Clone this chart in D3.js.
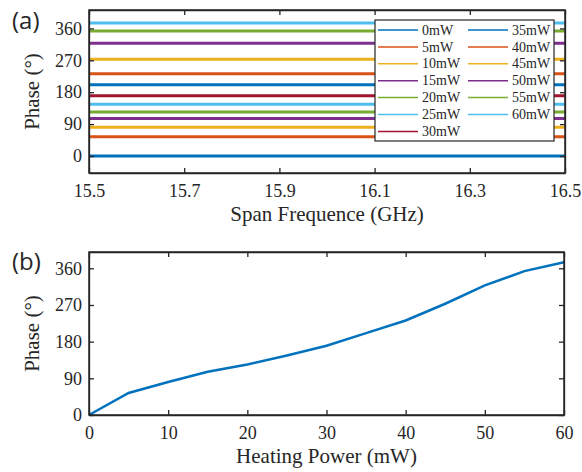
<!DOCTYPE html>
<html>
<head>
<meta charset="utf-8">
<script src="https://cdn.jsdelivr.net/npm/d3@7"></script>
<style>
  body { margin: 0; background: #fff; }
  svg text { font-family: "Liberation Serif", "DejaVu Serif", serif; fill: #262626; }
  .axis path, .axis line { stroke: #262626; stroke-width: 1.3; }
</style>
</head>
<body>
<svg id="chart" width="582" height="472"></svg>
<script>
// heating powers (mW) and measured phase shift (deg)
var powers = [0, 5, 10, 15, 20, 25, 30, 35, 40, 45, 50, 55, 60];
var phases = [0, 54, 81, 106, 124, 146, 170, 201, 232, 273, 318, 353, 375];
// span of the frequency sweep (GHz)
var freqSpan = [15.5, 16.5];
var freqTicks = [15.5, 15.7, 15.9, 16.1, 16.3, 16.5];
var phaseTicks = [0, 90, 180, 270, 360];
var powerTicks = [0, 10, 20, 30, 40, 50, 60];
var colors = ['#0072BD', '#D95319', '#EDB120', '#7E2F8E', '#77AC30', '#4DBEEE', '#A2142F'];

var serif = '"Liberation Serif", "DejaVu Serif", serif';
var svg = d3.select('#chart');

// draws a box frame with inward ticks on all four sides
function frame(g, x, y, xt, yt, xfmt, yfmt, w, h) {
    var axes = [];
    axes.push(g.append('g')
        .attr('transform', 'translate(0,' + h + ')')
        .call(d3.axisBottom(x).tickValues(xt).tickFormat(xfmt).tickSizeInner(-5).tickSizeOuter(0).tickPadding(11)));
    axes.push(g.append('g')
        .call(d3.axisTop(x).tickValues(xt).tickFormat('').tickSizeInner(-5).tickSizeOuter(0)));
    axes.push(g.append('g')
        .call(d3.axisLeft(y).tickValues(yt).tickFormat(yfmt).tickSizeInner(-5).tickSizeOuter(0).tickPadding(7)));
    axes.push(g.append('g')
        .attr('transform', 'translate(' + w + ',0)')
        .call(d3.axisRight(y).tickValues(yt).tickFormat('').tickSizeInner(-5).tickSizeOuter(0)));
    axes.forEach(function(a) {
        a.attr('class', 'axis').attr('font-family', serif).attr('font-size', 18);
        a.selectAll('text').style('font-family', serif).style('font-size', '18px').style('fill', '#262626');
    });
    g.append('rect')
        .attr('width', w).attr('height', h)
        .style('fill', 'none').style('stroke', '#262626').style('stroke-width', 1.5);
}

// ---- panel (a) ----
var ma = {left: 89, top: 10}, wa = 476, ha = 163;
var ga = svg.append('g').attr('transform', 'translate(' + ma.left + ',' + ma.top + ')');
var xa = d3.scaleLinear().domain(freqSpan).range([0, wa]);
var ya = d3.scaleLinear().domain([-48, 412]).range([ha, 0]);

var traceLine = d3.line().x(function(d) { return xa(d[0]); }).y(function(d) { return ya(d[1]); });
ga.append('g').selectAll('path')
    .data(phases)
    .enter().append('path')
    .attr('d', function(p) { return traceLine(freqSpan.map(function(f) { return [f, p]; })); })
    .style('fill', 'none')
    .style('stroke', function(p, i) { return colors[i % colors.length]; })
    .style('stroke-width', 3);

frame(ga, xa, ya, freqTicks, phaseTicks, d3.format('.1f'), d3.format('d'), wa, ha);

// legend
var lg = svg.append('g').attr('transform', 'translate(375,20)');
lg.append('rect').attr('width', 179).attr('height', 121)
    .style('fill', '#fff').style('stroke', '#262626').style('stroke-width', 1.2);
var items = lg.selectAll('g.item')
    .data(powers)
    .enter().append('g')
    .attr('class', 'item')
    .attr('transform', function(d, i) {
        var col = i < 7 ? 0 : 1, row = i < 7 ? i : i - 7;
        return 'translate(' + (col * 90) + ',' + (10 + row * 16.9) + ')';
    });
items.append('line')
    .attr('x1', 3).attr('x2', 43)
    .style('stroke', function(d, i) { return colors[i % colors.length]; })
    .style('stroke-width', 1.5);
items.append('text')
    .attr('x', 47).attr('dy', '0.33em')
    .style('font-family', serif)
    .style('font-size', '14px')
    .text(function(d) { return d + 'mW'; });

function axisTitle(g, x, y, rot, txt) {
    g.append('text')
        .attr('transform', 'translate(' + x + ',' + y + ')' + (rot ? ' rotate(-90)' : ''))
        .attr('text-anchor', 'middle')
        .style('font-family', serif)
        .style('font-size', '21px')
        .text(txt);
}
axisTitle(ga, wa / 2, 211, false, 'Span Frequence (GHz)');
axisTitle(ga, -50, ha / 2, true, 'Phase (°)');

// ---- panel (b) ----
var mb = {left: 89, top: 252}, wb = 475, hb = 163;
var gb = svg.append('g').attr('transform', 'translate(' + mb.left + ',' + mb.top + ')');
var xb = d3.scaleLinear().domain([0, 60]).range([0, wb]);
var yb = d3.scaleLinear().domain([0, 400]).range([hb, 0]);

var curve = d3.line()
    .x(function(d, i) { return xb(powers[i]); })
    .y(function(d) { return yb(d); });
gb.append('path')
    .datum(phases)
    .attr('d', curve)
    .style('fill', 'none')
    .style('stroke', colors[0])
    .style('stroke-width', 2.5);

frame(gb, xb, yb, powerTicks, phaseTicks, d3.format('d'), d3.format('d'), wb, hb);

axisTitle(gb, wb / 2, 211, false, 'Heating Power (mW)');
axisTitle(gb, -50, hb / 2, true, 'Phase (°)');

// panel letters
svg.append('text').attr('x', 12).attr('y', 29)
    .style('font-family', '"Open Sans", "Noto Sans", sans-serif').style('font-size', '24px')
    .text('(a)');
svg.append('text').attr('x', 12).attr('y', 270)
    .style('font-family', '"Open Sans", "Noto Sans", sans-serif').style('font-size', '24px')
    .text('(b)');
</script>
</body>
</html>
